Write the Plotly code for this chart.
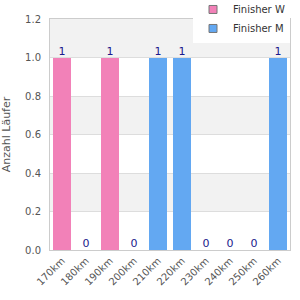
import plotly.graph_objects as go

categories = ["170km", "180km", "190km", "200km", "210km", "220km", "230km", "240km", "250km", "260km"]
finisher_w = [1, 0, 1, 0, 0, 0, 0, 0, 0, 0]
finisher_m = [0, 0, 0, 0, 1, 1, 0, 0, 0, 1]
y_ticks = [0.0, 0.2, 0.4, 0.6, 0.8, 1.0, 1.2]

PINK = "#f281b8"
BLUE = "#63a8f2"
FONT = "DejaVu Sans"

totals = [w + m for w, m in zip(finisher_w, finisher_m)]

fig = go.Figure()
fig.add_bar(x=categories, y=finisher_w, marker=dict(color=PINK, line=dict(width=0)),
            width=0.75, showlegend=False, hoverinfo="skip")
fig.add_bar(x=categories, y=finisher_m, marker=dict(color=BLUE, line=dict(width=0)),
            width=0.75, showlegend=False, hoverinfo="skip")
fig.add_scatter(x=categories, y=totals, mode="text", text=[str(t) for t in totals],
                textposition="top center", textfont=dict(family=FONT, size=11, color="#1a1a8c"),
                showlegend=False, hoverinfo="skip")
# legend entries
for name, col in [("Finisher W", PINK), ("Finisher M", BLUE)]:
    fig.add_scatter(x=[None], y=[None], mode="markers", name=name,
                    marker=dict(symbol="square", size=8, color=col, line=dict(color="#777", width=1)))

# alternating bands
shapes = []
for i in range(len(y_ticks) - 1):
    if i % 2 == 1:
        shapes.append(dict(type="rect", xref="paper", yref="y", x0=0, x1=1,
                           y0=y_ticks[i], y1=y_ticks[i + 1], fillcolor="#f2f2f2",
                           line=dict(width=0), layer="below"))

fig.update_layout(
    width=300, height=300,
    margin=dict(l=50, r=10, t=19, b=50, autoexpand=False),
    paper_bgcolor="white", plot_bgcolor="white",
    barmode="stack", shapes=shapes,
    font=dict(family=FONT, size=10, color="#333"),
    legend=dict(x=1.0, xanchor="right", y=1.104, yanchor="top", yref="paper",
                bgcolor="white", font=dict(family=FONT, size=10, color="#333"),
                itemwidth=30, tracegroupgap=0, traceorder="normal"),
    xaxis=dict(type="category", tickangle=-45, showline=True, linecolor="#ccc", mirror=True,
               tickfont=dict(family=FONT, size=10, color="#555"), showgrid=False),
    yaxis=dict(range=[0, 1.2], tickvals=y_ticks, tickformat=".1f", showgrid=True,
               gridcolor="#ddd", showline=True, linecolor="#ccc", mirror=True, zeroline=False,
               ticklabelstandoff=6,
               tickfont=dict(family=FONT, size=10, color="#555"),
               title=dict(text="Anzahl Läufer", font=dict(family=FONT, size=11, color="#555"), standoff=12)),
)

fig.write_html("out.html")
